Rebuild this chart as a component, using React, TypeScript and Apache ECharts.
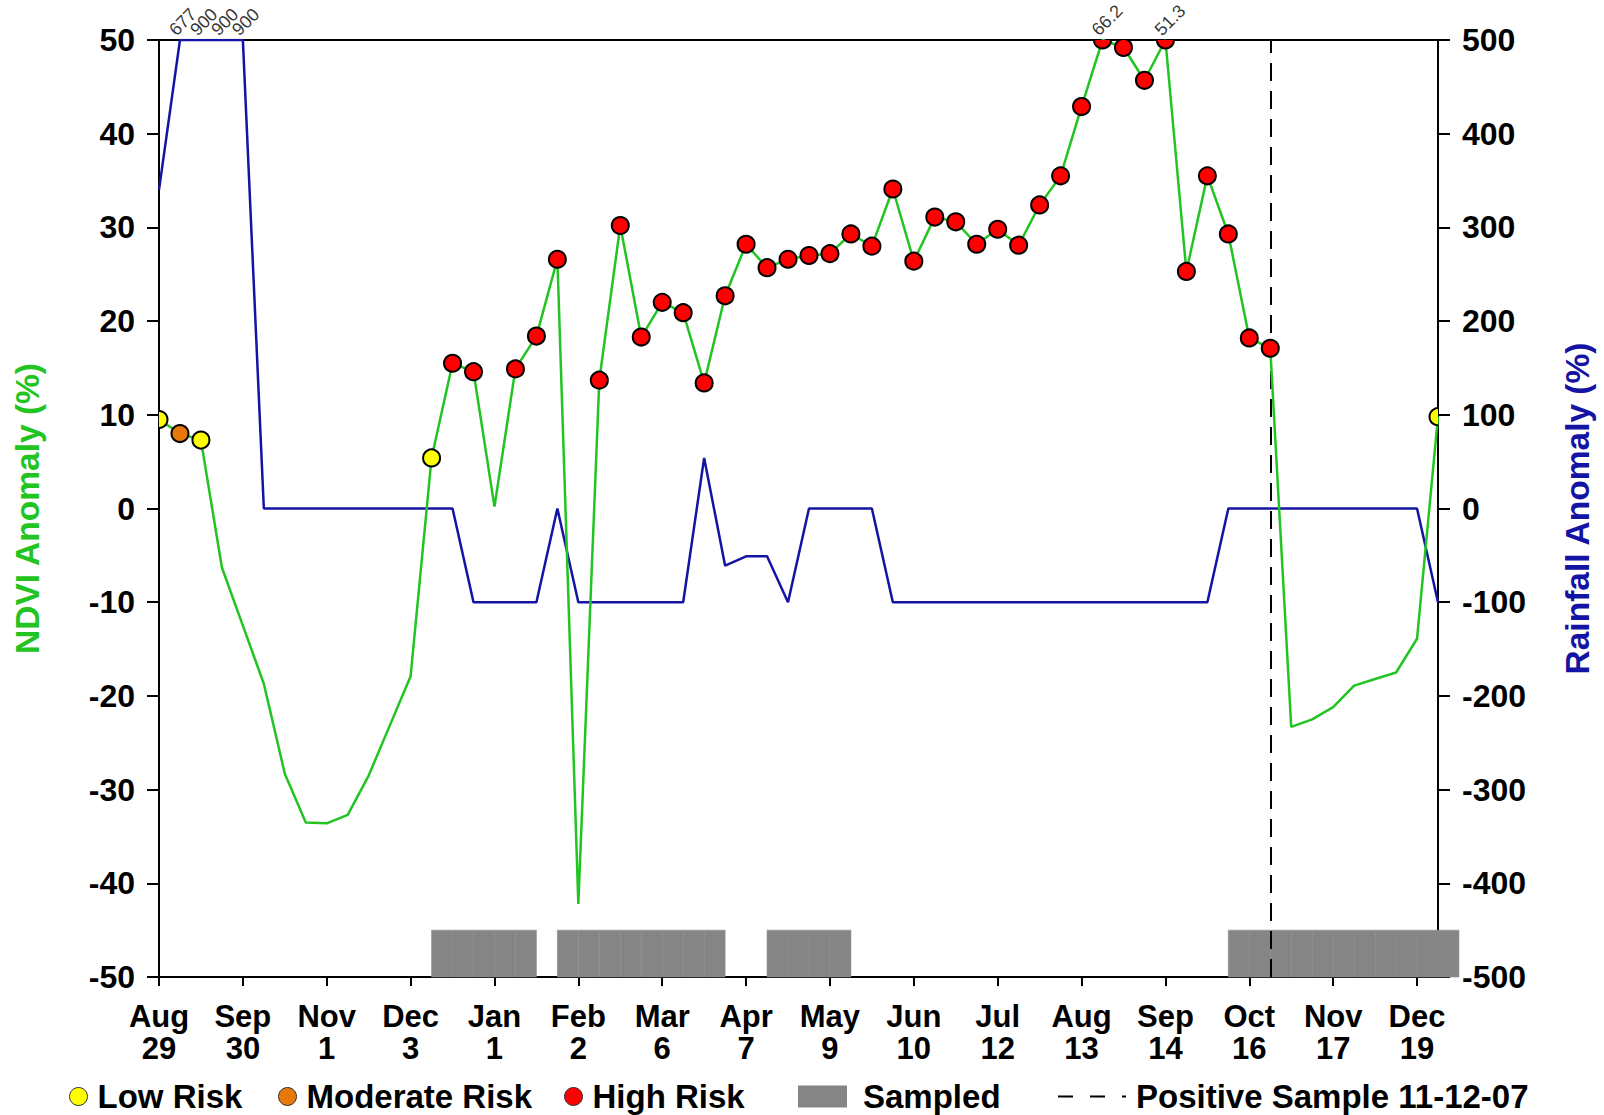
import React, { useEffect, useRef } from 'react';
import * as echarts from 'echarts';

// ---------- data ----------
const tickLabels = [
  'Aug\n29', 'Sep\n30', 'Nov\n1', 'Dec\n3', 'Jan\n1', 'Feb\n2', 'Mar\n6', 'Apr\n7',
  'May\n9', 'Jun\n10', 'Jul\n12', 'Aug\n13', 'Sep\n14', 'Oct\n16', 'Nov\n17', 'Dec\n19',
];
const periodCount = 62;
const periods = Array.from({ length: periodCount }, (_, i) => String(i));

const ndvi = [
  9.5, 8.0, 7.3, -6.3, -12.5, -18.7, -28.3, -33.5, -33.6, -32.7,
  -28.5, -23.2, -17.9, 5.4, 15.5, 14.6, 0.2, 14.9, 18.4, 26.6,
  -42.2, 13.7, 30.2, 18.3, 22.0, 20.9, 13.4, 22.7, 28.2, 25.7,
  26.6, 27.0, 27.2, 29.3, 28.0, 34.1, 26.4, 31.1, 30.6, 28.2,
  29.8, 28.1, 32.4, 35.5, 42.9, 66.2, 49.2, 45.7, 51.3, 25.3,
  35.5, 29.3, 18.2, 17.1, -23.3, -22.5, -21.2, -18.9, -18.2, -17.5,
  -13.9, 9.8,
];

const rainfall = [
  340, 677, 900, 900, 900, 0, 0, 0, 0, 0,
  0, 0, 0, 0, 0, -100, -100, -100, -100, 0,
  -100, -100, -100, -100, -100, -100, 54, -61, -51, -51,
  -100, 0, 0, 0, 0, -100, -100, -100, -100, -100,
  -100, -100, -100, -100, -100, -100, -100, -100, -100, -100,
  -100, 0, 0, 0, 0, 0, 0, 0, 0, 0,
  0, -100,
];

const lowRiskIdx = [0, 2, 13, 61];
const moderateRiskIdx = [1];
const highRiskIdx = [
  14, 15, 17, 18, 19, 21, 22, 23, 24, 25, 26, 27, 28, 29, 30, 31, 32, 33, 34, 35,
  36, 37, 38, 39, 40, 41, 42, 43, 44, 45, 46, 47, 48, 49, 50, 51, 52, 53,
];
const sampledIdx = [
  13, 14, 15, 16, 17,
  19, 20, 21, 22, 23, 24, 25, 26,
  29, 30, 31, 32,
  51, 52, 53, 54, 55, 56, 57, 58, 59, 60, 61,
];
const positiveSampleIdx = 53;

// ---------- styling constants ----------
const NDVI_MIN = -50;
const NDVI_MAX = 50;
const RAIN_MIN = -500;
const RAIN_MAX = 500;
const SAMPLE_TOP = -45;
const FONT = '"Liberation Sans", Arial, Helvetica, sans-serif';
const GREEN = '#22c422';
const BLUE = '#1414a4';
const YELLOW = '#ffff00';
const ORANGE = '#e8780c';
const RED = '#ff0000';
const GREY = '#858585';
const MARKER_R = 8.5;

function markerSeries(name: string, idx: number[], color: string) {
  return {
    name,
    type: 'custom',
    clip: true,
    z: 6,
    xAxisIndex: 0,
    yAxisIndex: 0,
    itemStyle: { color, borderColor: '#000', borderWidth: 1 },
    encode: { x: 0, y: 1 },
    data: idx.map((i) => [i, Math.min(ndvi[i], NDVI_MAX)]),
    renderItem: (_p: any, api: any) => {
      const pt = api.coord([api.value(0), api.value(1)]);
      return {
        type: 'circle',
        shape: { cx: pt[0], cy: pt[1], r: MARKER_R },
        style: { fill: color, stroke: '#000', lineWidth: 2 },
      };
    },
  };
}

const legendText = { fontSize: 33, fontWeight: 'bold', color: '#000', fontFamily: FONT };

function App() {
  const ref = useRef<HTMLDivElement>(null);
  useEffect(() => {
    if (!ref.current) return;
    const chart = echarts.init(ref.current, undefined, { renderer: 'svg' });

    const ndviOverflow = ndvi
      .map((v, i) => (v > NDVI_MAX ? [i, NDVI_MAX, v] : null))
      .filter(Boolean);
    const rainOverflow = rainfall
      .map((v, i) => (v > RAIN_MAX ? [i, RAIN_MAX, v] : null))
      .filter(Boolean);

    const overflowLabel = {
      show: true,
      position: 'top',
      distance: 2,
      offset: [-2, 0],
      align: 'left',
      verticalAlign: 'bottom',
      rotate: 45,
      fontSize: 18,
      color: '#000',
      fontFamily: FONT,
      formatter: (p: any) => String(p.value[2]),
    };

    const option: any = {
      animation: false,
      backgroundColor: '#fff',
      grid: {
        left: 159,
        right: 166,
        top: 40,
        bottom: 138,
        show: true,
        borderColor: '#000',
        borderWidth: 2,
        backgroundColor: 'transparent',
      },
      xAxis: {
        type: 'category',
        data: periods,
        boundaryGap: false,
        axisLine: { onZero: false, lineStyle: { color: '#000', width: 2 } },
        axisTick: { interval: 3, length: 9, lineStyle: { color: '#000', width: 2 } },
        axisLabel: {
          interval: 3,
          margin: 23,
          fontSize: 31,
          fontWeight: 'bold',
          lineHeight: 32,
          color: '#000',
          fontFamily: FONT,
          formatter: (v: string) => {
            const i = Number(v);
            return i % 4 === 0 ? tickLabels[i / 4] : '';
          },
        },
        splitLine: { show: false },
      },
      yAxis: [
        {
          type: 'value',
          min: NDVI_MIN,
          max: NDVI_MAX,
          interval: 10,
          position: 'left',
          name: 'NDVI Anomaly (%)',
          nameLocation: 'middle',
          nameRotate: 90,
          nameGap: 115,
          nameTextStyle: { color: GREEN, fontSize: 33.5, fontWeight: 'bold', fontFamily: FONT },
          axisLine: { show: true, lineStyle: { color: '#000', width: 2 } },
          axisTick: { show: true, length: 12, lineStyle: { color: '#000', width: 2 } },
          axisLabel: { margin: 24, fontSize: 32, fontWeight: 'bold', color: '#000', fontFamily: FONT },
          splitLine: { show: false },
        },
        {
          type: 'value',
          min: RAIN_MIN,
          max: RAIN_MAX,
          interval: 100,
          position: 'right',
          name: 'Rainfall Anomaly (%)',
          nameLocation: 'middle',
          nameRotate: 90,
          nameGap: 122,
          nameTextStyle: { color: BLUE, fontSize: 33.5, fontWeight: 'bold', fontFamily: FONT },
          axisLine: { show: true, lineStyle: { color: '#000', width: 2 } },
          axisTick: { show: true, length: 12, lineStyle: { color: '#000', width: 2 } },
          axisLabel: { margin: 24, fontSize: 32, fontWeight: 'bold', color: '#000', fontFamily: FONT },
          splitLine: { show: false },
        },
      ],
      legend: [
        {
          data: [{ name: 'Low Risk', icon: 'circle', itemStyle: { color: YELLOW, borderColor: '#333', borderWidth: 1 } }],
          left: 69, top: 1080, itemWidth: 28, itemHeight: 18, padding: 0, selectedMode: false, textStyle: legendText,
        },
        {
          data: [{ name: 'Moderate Risk', icon: 'circle', itemStyle: { color: ORANGE, borderColor: '#333', borderWidth: 1 } }],
          left: 278, top: 1080, itemWidth: 28, itemHeight: 18, padding: 0, selectedMode: false, textStyle: legendText,
        },
        {
          data: [{ name: 'High Risk', icon: 'circle', itemStyle: { color: RED, borderColor: '#333', borderWidth: 1 } }],
          left: 564, top: 1080, itemWidth: 28, itemHeight: 18, padding: 0, selectedMode: false, textStyle: legendText,
        },
        {
          data: [{ name: 'Sampled', icon: 'rect', itemStyle: { color: GREY, borderWidth: 0 } }],
          left: 798, top: 1080, itemWidth: 49, itemHeight: 22, padding: 0, selectedMode: false,
          textStyle: { ...legendText, padding: [0, 0, 0, 11] },
        },
        {
          data: [{
            name: 'Positive Sample 11-12-07',
            itemStyle: { opacity: 0 },
            lineStyle: { color: '#000', width: 2, type: [15, 17] },
          }],
          left: 1057, top: 1080, itemWidth: 68, itemHeight: 18, padding: 0, selectedMode: false,
          textStyle: { ...legendText, padding: [0, 0, 0, 5] },
        },
      ],
      series: [
        {
          name: 'Sampled',
          type: 'custom',
          clip: false,
          z: 3,
          xAxisIndex: 0,
          yAxisIndex: 0,
          itemStyle: { color: GREY },
          encode: { x: 0 },
          data: sampledIdx.map((i) => [i]),
          renderItem: (_p: any, api: any) => {
            const i = api.value(0);
            const bl = api.coord([i, NDVI_MIN]);
            const tr = api.coord([i + 1, SAMPLE_TOP]);
            return {
              type: 'rect',
              shape: { x: bl[0], y: tr[1], width: tr[0] - bl[0], height: bl[1] - tr[1] },
              style: { fill: GREY, stroke: '#8d8d8d', lineWidth: 0.6 },
            };
          },
        },
        {
          name: 'Rainfall Anomaly',
          type: 'line',
          yAxisIndex: 1,
          z: 4,
          showSymbol: false,
          symbol: 'none',
          lineStyle: { color: BLUE, width: 2.5 },
          itemStyle: { color: BLUE },
          data: rainfall.map((v) => Math.min(v, RAIN_MAX)),
        },
        {
          name: 'NDVI Anomaly',
          type: 'line',
          yAxisIndex: 0,
          z: 5,
          showSymbol: false,
          symbol: 'none',
          lineStyle: { color: GREEN, width: 2.5 },
          itemStyle: { color: GREEN },
          data: ndvi.map((v) => Math.min(v, NDVI_MAX)),
        },
        markerSeries('Low Risk', lowRiskIdx, YELLOW),
        markerSeries('Moderate Risk', moderateRiskIdx, ORANGE),
        markerSeries('High Risk', highRiskIdx, RED),
        {
          name: 'Positive Sample 11-12-07',
          type: 'line',
          yAxisIndex: 0,
          z: 7,
          symbol: 'none',
          showSymbol: false,
          itemStyle: { color: '#000' },
          lineStyle: { color: '#000', width: 2, type: [18, 10] },
          data: [],
          markLine: {
            silent: true,
            symbol: 'none',
            label: { show: false },
            lineStyle: { color: '#000', width: 2, type: [18, 10] },
            data: [{ xAxis: positiveSampleIdx }],
          },
        },
        {
          name: 'ndvi-overflow',
          type: 'scatter',
          yAxisIndex: 0,
          clip: false,
          z: 8,
          symbolSize: 1,
          itemStyle: { color: 'rgba(0,0,0,0)' },
          label: overflowLabel,
          data: ndviOverflow,
        },
        {
          name: 'rain-overflow',
          type: 'scatter',
          yAxisIndex: 1,
          clip: false,
          z: 8,
          symbolSize: 1,
          itemStyle: { color: 'rgba(0,0,0,0)' },
          label: overflowLabel,
          data: rainOverflow,
        },
      ],
    };
    chart.setOption(option);
    return () => chart.dispose();
  }, []);

  return (
    <div
      ref={ref}
      style={{ position: 'absolute', left: 0, top: 0, width: 1604, height: 1115, background: '#fff' }}
    />
  );
}

export default App;
